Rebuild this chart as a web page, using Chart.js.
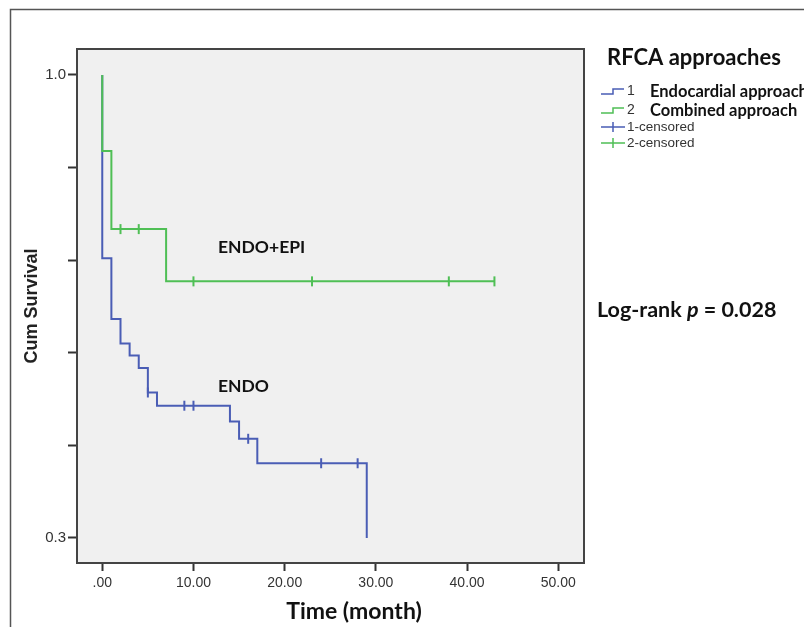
<!DOCTYPE html>
<html lang="en">

<head>
    <meta charset="UTF-8">
    <title>RFCA approaches - Kaplan-Meier</title>
    <script src="https://cdn.jsdelivr.net/npm/chart.js"></script>
    <style>
        body {
            margin: 0;
            background-color: #ffffff;
        }

        #wrap {
            width: 804px;
            height: 627px;
        }
    </style>
</head>

<body>
    <div id="wrap">
        <canvas id="kmChart" width="804" height="627"></canvas>
    </div>

    <script>
        // Endocardial approach (group 1): step points
        const endoTime = [0, 0, 1, 2, 3, 4, 5, 6, 14, 15, 17, 29];
        const endoSurv = [1.0, 0.723, 0.631, 0.594, 0.576, 0.557, 0.52, 0.50, 0.476, 0.45, 0.413, 0.3];
        const endoCensTime = [5, 9, 10, 16, 24, 28];
        const endoCensSurv = [0.52, 0.50, 0.50, 0.45, 0.413, 0.413];

        // Combined approach (group 2)
        const comboTime = [0, 0, 1, 7, 43];
        const comboSurv = [1.0, 0.885, 0.767, 0.688, 0.688];
        const comboCensTime = [2, 4, 10, 23, 38, 43];
        const comboCensSurv = [0.767, 0.767, 0.688, 0.688, 0.688, 0.688];

        // axis ticks
        const xTickValues = [0, 10, 20, 30, 40, 50];
        const xTickLabels = ['.00', '10.00', '20.00', '30.00', '40.00', '50.00'];
        const yTickValues = [0.3, 0.44, 0.58, 0.72, 0.86, 1.0];
        const yTickLabels = ['0.3', '', '', '', '', '1.0'];

        const BLUE = '#4a5db5';
        const GREEN = '#4fbf55';
        const BOLD_FONT = 'Lato, "Open Sans", sans-serif';
        const ARIAL = '"Liberation Sans", Arial, sans-serif';

        const toPoints = (xs, ys) => xs.map((x, i) => ({ x: x, y: ys[i] }));

        // plot background, frames, legend and notes
        const decorations = {
            id: 'decorations',
            beforeDraw(chart) {
                const { ctx, chartArea: a } = chart;
                ctx.save();
                ctx.fillStyle = '#f0f0f0';
                ctx.fillRect(a.left, a.top, a.right - a.left, a.bottom - a.top);
                // outer frame
                ctx.strokeStyle = '#555';
                ctx.lineWidth = 1.5;
                ctx.beginPath();
                ctx.moveTo(10.5, 640);
                ctx.lineTo(10.5, 9.5);
                ctx.lineTo(820, 9.5);
                ctx.stroke();
                ctx.restore();
            },
            afterDraw(chart) {
                const { ctx, chartArea: a } = chart;
                ctx.save();
                ctx.strokeStyle = '#444';
                ctx.lineWidth = 2;
                ctx.strokeRect(a.left, a.top, a.right - a.left, a.bottom - a.top);

                ctx.textBaseline = 'middle';
                ctx.fillStyle = '#111';

                // curve labels
                ctx.font = 'bold 17.5px ' + BOLD_FONT;
                ctx.fillText('ENDO+EPI', 218, 247);
                ctx.fillText('ENDO', 218, 386);

                // x title
                ctx.font = 'bold 23px ' + BOLD_FONT;
                ctx.textAlign = 'center';
                ctx.fillText('Time (month)', 354, 612);
                ctx.textAlign = 'left';

                // log-rank note
                let x = 597;
                ctx.font = 'bold 21.5px ' + BOLD_FONT;
                ctx.fillText('Log-rank ', x, 310);
                x += ctx.measureText('Log-rank ').width;
                ctx.font = 'italic bold 21.5px ' + BOLD_FONT;
                ctx.fillText('p', x, 310);
                x += ctx.measureText('p').width;
                ctx.font = 'bold 21.5px ' + BOLD_FONT;
                ctx.fillText(' = 0.028', x, 310);

                // legend
                ctx.font = 'bold 22px ' + BOLD_FONT;
                ctx.fillText('RFCA approaches', 607, 58);

                const steps = [[BLUE, '1', 'Endocardial approach', 92], [GREEN, '2', 'Combined approach', 111]];
                steps.forEach(([col, num, name, y]) => {
                    ctx.strokeStyle = col;
                    ctx.lineWidth = 1.5;
                    ctx.beginPath();
                    ctx.moveTo(601, y + 2);
                    ctx.lineTo(613, y + 2);
                    ctx.lineTo(613, y - 3);
                    ctx.lineTo(624, y - 3);
                    ctx.stroke();
                    ctx.fillStyle = '#333';
                    ctx.font = '14px ' + ARIAL;
                    ctx.fillText(num, 627, y - 1);
                    ctx.fillStyle = '#111';
                    ctx.font = 'bold 16.5px ' + BOLD_FONT;
                    ctx.fillText(name, 650, y);
                });

                const cens = [[BLUE, '1-censored', 127], [GREEN, '2-censored', 143]];
                cens.forEach(([col, name, y]) => {
                    ctx.strokeStyle = col;
                    ctx.lineWidth = 1.5;
                    ctx.beginPath();
                    ctx.moveTo(601, y);
                    ctx.lineTo(625, y);
                    ctx.moveTo(613, y - 5);
                    ctx.lineTo(613, y + 5);
                    ctx.stroke();
                    ctx.fillStyle = '#333';
                    ctx.font = '13.5px ' + ARIAL;
                    ctx.fillText(name, 627, y);
                });
                ctx.restore();
            }
        };

        const ctxKm = document.getElementById('kmChart').getContext('2d');
        new Chart(ctxKm, {
            type: 'line',
            data: {
                datasets: [
                    {
                        label: 'Endocardial approach',
                        data: toPoints(endoTime, endoSurv),
                        borderColor: BLUE,
                        borderWidth: 2,
                        stepped: 'before',
                        pointRadius: 0,
                        fill: false,
                        order: 2
                    },
                    {
                        label: 'Combined approach',
                        data: toPoints(comboTime, comboSurv),
                        borderColor: GREEN,
                        borderWidth: 2,
                        stepped: 'before',
                        pointRadius: 0,
                        fill: false,
                        order: 1
                    },
                    {
                        label: '1-censored',
                        data: toPoints(endoCensTime, endoCensSurv),
                        showLine: false,
                        pointStyle: 'line',
                        rotation: 90,
                        pointRadius: 5,
                        pointBorderWidth: 2,
                        pointBorderColor: BLUE,
                        order: 0
                    },
                    {
                        label: '2-censored',
                        data: toPoints(comboCensTime, comboCensSurv),
                        showLine: false,
                        pointStyle: 'line',
                        rotation: 90,
                        pointRadius: 5,
                        pointBorderWidth: 2,
                        pointBorderColor: GREEN,
                        order: 0
                    }
                ]
            },
            options: {
                responsive: false,
                animation: false,
                layout: { padding: { left: 0, top: 49, right: 220, bottom: 0 } },
                plugins: {
                    legend: { display: false },
                    tooltip: { enabled: false }
                },
                scales: {
                    x: {
                        type: 'linear',
                        min: -2.77,
                        max: 52.82,
                        afterFit: s => { s.height = 64; },
                        afterBuildTicks: s => { s.ticks = xTickValues.map(v => ({ value: v })); },
                        ticks: {
                            callback: (v, i) => xTickLabels[i],
                            font: { family: ARIAL, size: 14 },
                            color: '#333',
                            padding: 4,
                            maxRotation: 0
                        },
                        grid: { drawOnChartArea: false, tickLength: 8, tickWidth: 2, tickColor: '#333' },
                        border: { color: '#444', width: 2 }
                    },
                    y: {
                        type: 'linear',
                        min: 0.2622,
                        max: 1.0393,
                        afterFit: s => { s.width = 77; },
                        afterBuildTicks: s => { s.ticks = yTickValues.map(v => ({ value: v })); },
                        ticks: {
                            callback: (v, i) => yTickLabels[i],
                            font: { family: ARIAL, size: 15 },
                            color: '#333',
                            padding: 2
                        },
                        title: {
                            display: true,
                            text: 'Cum Survival',
                            font: { family: ARIAL, size: 18, weight: 'bold' },
                            color: '#222',
                            padding: { top: 21, bottom: 0 }
                        },
                        grid: { drawOnChartArea: false, tickLength: 9, tickWidth: 2, tickColor: '#333' },
                        border: { color: '#444', width: 2 }
                    }
                }
            },
            plugins: [decorations]
        });
    </script>
</body>

</html>
